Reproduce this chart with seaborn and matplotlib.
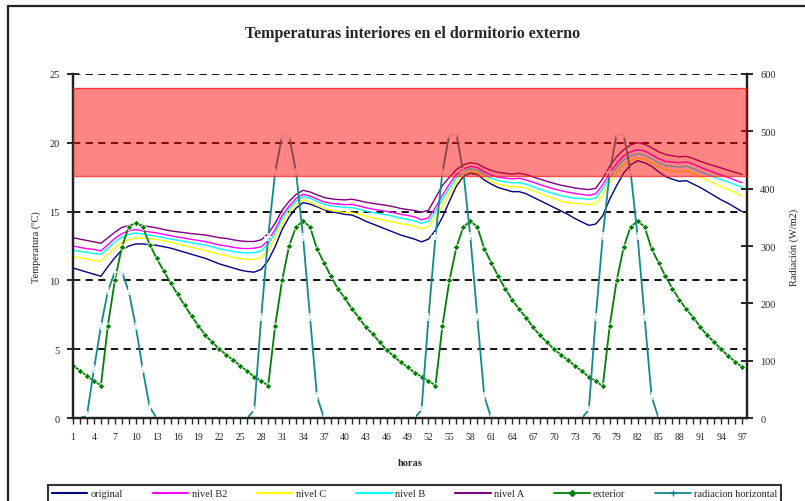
import matplotlib
matplotlib.use("Agg")

import matplotlib.pyplot as plt
import numpy as np
import pandas as pd
import seaborn as sns
from matplotlib.lines import Line2D
from matplotlib.patches import Rectangle


# hours 1..97
horas = list(range(1, 98))

original = [
    10.9, 10.75, 10.6, 10.45, 10.3, 11.0, 11.65, 12.2, 12.5, 12.65, 12.65, 12.6,
    12.55, 12.45, 12.35, 12.2, 12.05, 11.9, 11.75, 11.6, 11.4, 11.2, 11.05, 10.9,
    10.75, 10.65, 10.6, 10.8, 11.45, 12.45, 13.7, 14.6, 15.25, 15.65, 15.55, 15.35,
    15.15, 15.0, 14.9, 14.8, 14.75, 14.55, 14.3, 14.1, 13.9, 13.7, 13.5, 13.3,
    13.15, 13.0, 12.8, 13.0, 13.65, 14.6, 15.75, 16.85, 17.55, 17.8, 17.7, 17.3,
    17.0, 16.75, 16.6, 16.45, 16.45, 16.3, 16.05, 15.8, 15.55, 15.3, 15.05, 14.8,
    14.5, 14.25, 14.0, 14.1, 14.7, 15.9, 16.9, 17.8, 18.4, 18.7, 18.55, 18.3,
    17.9, 17.55, 17.35, 17.2, 17.25, 17.0, 16.75, 16.45, 16.15, 15.85, 15.6, 15.3,
    15.0,
]

nivel_b2 = [
    12.5, 12.4, 12.3, 12.25, 12.15, 12.6, 13.05, 13.4, 13.6, 13.7, 13.6, 13.52,
    13.45, 13.35, 13.25, 13.15, 13.07, 12.98, 12.9, 12.82, 12.7, 12.58, 12.5, 12.4,
    12.33, 12.31, 12.34, 12.45, 12.9, 13.7, 14.7, 15.4, 15.95, 16.26, 16.13, 15.91,
    15.71, 15.6, 15.55, 15.5, 15.53, 15.42, 15.28, 15.18, 15.1, 15.02, 14.92, 14.8,
    14.72, 14.62, 14.4, 14.55, 15.3, 16.2, 17.0, 17.7, 18.1, 18.29, 18.2, 17.88,
    17.65, 17.5, 17.43, 17.38, 17.43, 17.3, 17.13, 16.96, 16.8, 16.65, 16.52, 16.41,
    16.32, 16.25, 16.18, 16.3, 16.95, 17.8, 18.5, 19.05, 19.35, 19.5, 19.4, 19.15,
    18.85, 18.65, 18.6, 18.55, 18.62, 18.45, 18.22, 18.02, 17.83, 17.65, 17.48, 17.28,
    17.1,
]

nivel_c = [
    11.75, 11.65, 11.55, 11.45, 11.4, 11.9, 12.35, 12.75, 12.95, 13.1, 13.07, 13.02,
    12.97, 12.87, 12.77, 12.65, 12.53, 12.4, 12.28, 12.17, 12.03, 11.9, 11.8, 11.68,
    11.58, 11.53, 11.53, 11.68, 12.2, 13.05, 14.15, 14.92, 15.5, 15.87, 15.7, 15.45,
    15.22, 15.08, 15.0, 14.93, 14.92, 14.81, 14.66, 14.55, 14.44, 14.34, 14.23, 14.12,
    14.05, 13.95, 13.73, 13.9, 14.55, 15.4, 16.3, 17.1, 17.7, 17.92, 17.82, 17.45,
    17.18, 16.98, 16.88, 16.8, 16.82, 16.7, 16.52, 16.32, 16.12, 15.93, 15.77, 15.65,
    15.6, 15.58, 15.5, 15.6, 16.2, 17.1, 17.85, 18.4, 18.7, 18.9, 18.8, 18.55,
    18.25, 18.05, 17.95, 17.9, 17.95, 17.75, 17.5, 17.28, 17.05, 16.82, 16.6, 16.38,
    16.15,
]

nivel_b = [
    12.2, 12.1, 12.05, 11.95, 11.9, 12.35, 12.8, 13.15, 13.35, 13.45, 13.37, 13.28,
    13.21, 13.11, 13.01, 12.92, 12.83, 12.74, 12.65, 12.57, 12.43, 12.3, 12.2, 12.1,
    12.03, 12.0, 12.02, 12.15, 12.65, 13.45, 14.5, 15.2, 15.75, 16.09, 15.96, 15.74,
    15.54, 15.42, 15.36, 15.3, 15.29, 15.18, 15.04, 14.94, 14.85, 14.77, 14.65, 14.52,
    14.43, 14.33, 14.15, 14.3, 15.0, 15.9, 16.7, 17.45, 17.9, 18.12, 18.03, 17.68,
    17.43, 17.25, 17.16, 17.09, 17.11, 16.98, 16.8, 16.62, 16.45, 16.3, 16.16, 16.05,
    15.97, 15.95, 15.88, 16.0, 16.65, 17.5, 18.2, 18.75, 19.05, 19.2, 19.1, 18.85,
    18.55, 18.35, 18.28, 18.23, 18.3, 18.12, 17.9, 17.7, 17.5, 17.32, 17.15, 16.95,
    16.78,
]

nivel_a = [
    13.1, 13.0, 12.9, 12.8, 12.7, 13.1, 13.5, 13.85, 14.0, 14.1, 14.0, 13.9,
    13.82, 13.7, 13.6, 13.53, 13.47, 13.4, 13.35, 13.3, 13.2, 13.1, 13.05, 12.95,
    12.87, 12.83, 12.83, 12.95, 13.4, 14.15, 15.1, 15.75, 16.25, 16.55, 16.43, 16.22,
    16.03, 15.93, 15.88, 15.85, 15.9, 15.8, 15.68, 15.6, 15.52, 15.45, 15.35, 15.23,
    15.15, 15.08, 14.95, 15.1, 16.0, 16.9, 17.5, 18.05, 18.4, 18.55, 18.48, 18.2,
    18.0, 17.85, 17.78, 17.72, 17.8, 17.68, 17.52, 17.36, 17.2, 17.05, 16.92, 16.82,
    16.72, 16.65, 16.6, 16.7, 17.4, 18.3, 19.0, 19.5, 19.85, 20.0, 19.9, 19.65,
    19.35, 19.15, 19.05, 18.98, 19.02, 18.85, 18.65, 18.48, 18.32, 18.17, 18.0, 17.85,
    17.7,
]

exterior = [
    3.8, 3.45, 3.05, 2.7, 2.35, 6.7, 10.0, 12.4, 13.9, 14.2, 13.9, 12.6,
    11.6, 10.7, 9.8, 9.0, 8.2, 7.4, 6.7, 6.0, 5.5, 5.0, 4.6, 4.2,
    3.8, 3.4, 3.0, 2.7, 2.35, 6.7, 10.0, 12.5, 13.9, 14.3, 13.9, 12.3,
    11.3, 10.3, 9.4, 8.7, 7.95, 7.3, 6.6, 6.1, 5.5, 4.95, 4.5, 4.05,
    3.7, 3.3, 3.0, 2.7, 2.35, 6.7, 10.0, 12.4, 13.9, 14.3, 13.9, 12.3,
    11.3, 10.3, 9.4, 8.6, 7.9, 7.3, 6.6, 6.0, 5.5, 5.0, 4.6, 4.2,
    3.8, 3.4, 3.0, 2.7, 2.3, 6.7, 10.0, 12.4, 13.9, 14.3, 13.9, 12.3,
    11.3, 10.3, 9.4, 8.6, 7.9, 7.3, 6.6, 6.0, 5.5, 5.0, 4.5, 4.1,
    3.7,
]

radiacion = [
    0, 0, 5, 85, 160, 221, 255, 255, 221, 160, 85, 19,
    0, 0, 0, 0, 0, 0, 0, 0, 0, 0, 0, 0,
    0, 0, 14, 176, 316, 429, 492, 492, 429, 316, 176, 38,
    0, 0, 0, 0, 0, 0, 0, 0, 0, 0, 0, 0,
    0, 0, 14, 176, 317, 429, 495, 495, 429, 317, 176, 38,
    0, 0, 0, 0, 0, 0, 0, 0, 0, 0, 0, 0,
    0, 0, 14, 176, 317, 429, 495, 495, 429, 317, 176, 38,
    0, 0, 0, 0, 0, 0, 0, 0, 0, 0, 0, 0,
    0,
]

# comfort band (ºC)
banda = [17.6, 24.0]

series = [
    ("original", original, "#000080"),
    ("nivel B2", nivel_b2, "#FF00FF"),
    ("nivel C", nivel_c, "#FFFF00"),
    ("nivel B", nivel_b, "#00FFFF"),
    ("nivel A", nivel_a, "#800080"),
]

SERIF = ["Liberation Serif", "DejaVu Serif"]


def main():
    sns.set_style("white")
    plt.rcParams["font.family"] = SERIF

    fig = plt.figure(figsize=(8.05, 5.02), dpi=100)
    ax = fig.add_axes([0.0907, 0.1653, 0.8373, 0.6853])
    ax2 = ax.twinx()

    df = pd.DataFrame({"horas": horas})
    for name, values, color in series:
        df[name] = values
        sns.lineplot(data=df, x="horas", y=name, ax=ax, color=color,
                     linewidth=1.0, label=name, legend=False)

    df["exterior"] = exterior
    sns.lineplot(data=df, x="horas", y="exterior", ax=ax, color="#008000",
                 linewidth=1.3, marker="D", markersize=3.4, markeredgewidth=0.6,
                 label="exterior", legend=False)

    df["radiacion"] = radiacion
    sns.lineplot(data=df, x="horas", y="radiacion", ax=ax2, color="#138A8A",
                 linewidth=1.3, marker="+", markersize=5.5, markeredgewidth=1.1,
                 label="radiacion horizontal", legend=False)

    # red band drawn over everything, semi transparent
    band = Rectangle((0, banda[0]), 100, banda[1] - banda[0],
                     transform=ax.transData, facecolor="#FF0000", alpha=0.48,
                     edgecolor="none", zorder=10)
    ax2.add_patch(band)
    for yb in banda:
        ax2.plot([0, 100], [yb, yb], transform=ax.transData, color="#FF2020",
                 linewidth=1.0, alpha=0.8, zorder=11)

    ax.set_xlim(1, 97.7)
    ax.set_ylim(0, 25)
    ax2.set_ylim(0, 600)

    ax.set_yticks(np.arange(0, 26, 5))
    ax2.set_yticks(np.arange(0, 601, 100))
    ax.set_xticks(range(1, 98, 3))
    ax.set_xticks(range(1, 98), minor=True)

    ax.yaxis.grid(True, linestyle=(0, (4, 3)), color="black", linewidth=1.3)
    ax.xaxis.grid(False)

    for a in (ax, ax2):
        a.spines["top"].set_visible(False)
        for side in ("left", "right", "bottom"):
            a.spines[side].set_color("#222222")
            a.spines[side].set_linewidth(1.6)

    ax.tick_params(axis="y", direction="inout", length=9, width=1.4,
                   labelsize=7.5, pad=5, left=True)
    ax2.tick_params(axis="y", direction="inout", length=9, width=1.4,
                    labelsize=7.5, pad=5, right=True)
    ax.tick_params(axis="x", which="both", direction="out", length=4,
                   width=1.0, labelsize=7, pad=6, bottom=True)

    ax.set_xlabel("horas", fontsize=7.5, fontweight="bold", labelpad=12)
    ax.set_ylabel("Temperatura (ºC)", fontsize=7.5, labelpad=6)
    ax2.set_ylabel("Radiación (W/m2)", fontsize=7.5, rotation=90, labelpad=10)

    fig.text(0.512, 0.932, "Temperaturas interiores en el dormitorio externo",
             ha="center", va="center", fontsize=11.5, fontweight="bold")

    handles = [Line2D([], [], color=c, linewidth=1.5) for _, _, c in series]
    handles.append(Line2D([], [], color="#008000", linewidth=1.3, marker="D",
                          markersize=3))
    handles.append(Line2D([], [], color="#138A8A", linewidth=1.3, marker="+",
                          markersize=5))
    labels = [n for n, _, _ in series] + ["exterior", "radiacion horizontal"]
    leg = fig.legend(handles, labels, loc="lower center", ncol=7,
                     bbox_to_anchor=(0.515, -0.012), fontsize=7.5,
                     frameon=True, fancybox=False, edgecolor="black",
                     handlelength=3.4, handletextpad=0.3, columnspacing=2.9,
                     borderpad=0.35)
    leg.get_frame().set_linewidth(1.5)

    # outer chart border (cropped at right and bottom)
    fig.add_artist(Line2D([0.010, 0.010], [0.0, 0.986], color="#222222",
                          linewidth=1.6, transform=fig.transFigure))
    fig.add_artist(Line2D([0.010, 1.0], [0.986, 0.986], color="#222222",
                          linewidth=1.6, transform=fig.transFigure))

    fig.savefig("out.png", dpi=100)
    plt.close(fig)


if __name__ == "__main__":
    main()
